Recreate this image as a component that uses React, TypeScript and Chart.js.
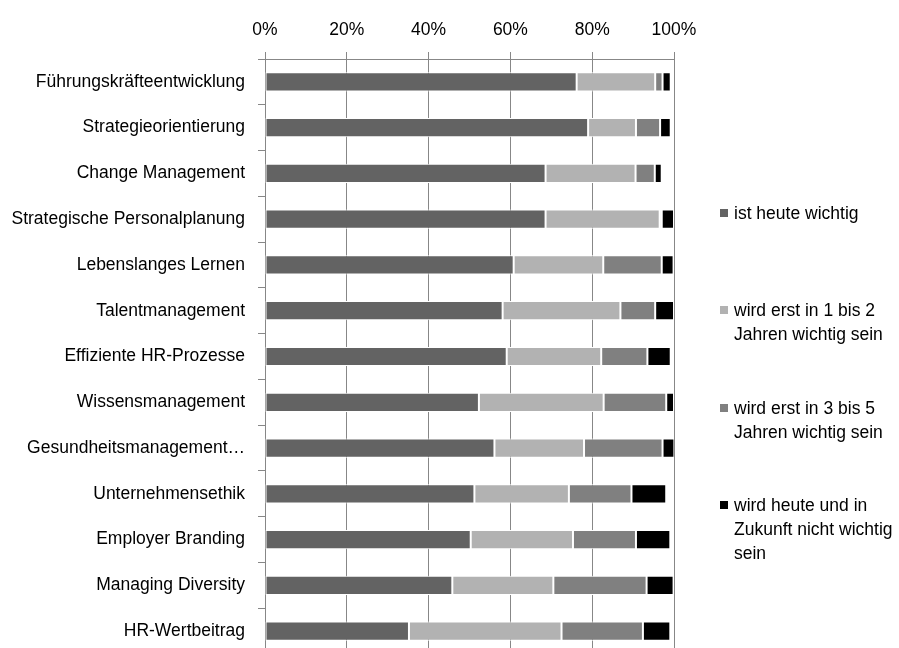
import React, { useEffect, useRef } from "react";
import { Chart, registerables } from "chart.js";

Chart.register(...registerables);

// Topics (rows, top to bottom)
const categories: string[] = [
  "Führungskräfteentwicklung",
  "Strategieorientierung",
  "Change Management",
  "Strategische Personalplanung",
  "Lebenslanges Lernen",
  "Talentmanagement",
  "Effiziente HR-Prozesse",
  "Wissensmanagement",
  "Gesundheitsmanagement…",
  "Unternehmensethik",
  "Employer Branding",
  "Managing Diversity",
  "HR-Wertbeitrag",
];

// Shares in percent per answer
const istHeuteWichtig: number[] = [76.2, 79.0, 68.6, 68.6, 60.8, 58.1, 59.1, 52.3, 56.1, 51.2, 50.3, 45.8, 35.2];
const inEinBisZweiJahren: number[] = [19.2, 11.7, 22.0, 27.9, 21.9, 28.8, 23.1, 30.5, 21.9, 23.1, 25.0, 24.7, 37.3];
const inDreiBisFuenfJahren: number[] = [1.8, 5.9, 4.7, 0.5, 14.3, 8.5, 11.3, 15.3, 19.2, 15.3, 15.4, 22.8, 19.9];
const nichtWichtig: number[] = [2.0, 2.6, 1.7, 3.0, 2.9, 4.6, 5.7, 1.9, 2.9, 8.5, 8.4, 6.6, 6.7];

// Axis tick values
const xTicks: number[] = [0, 20, 40, 60, 80, 100];

// Legend entries (line breaks as shown)
const seriesNames: string[] = [
  "ist heute wichtig",
  "wird erst in 1 bis 2\nJahren wichtig sein",
  "wird erst in 3 bis 5\nJahren wichtig sein",
  "wird heute und in\nZukunft nicht wichtig\nsein",
];
const seriesColors: string[] = ["#636363", "#b2b2b2", "#808080", "#000000"];

const FONT = "'Liberation Sans', Arial, sans-serif";
const GRID = "#878787";
const CANVAS_W = 899;
const CANVAS_H = 654;

export default function App() {
  const canvasRef = useRef<HTMLCanvasElement | null>(null);

  useEffect(() => {
    if (!canvasRef.current) return;
    const values = [istHeuteWichtig, inEinBisZweiJahren, inDreiBisFuenfJahren, nichtWichtig];
    const chart = new Chart(canvasRef.current, {
      type: "bar",
      data: {
        labels: categories,
        datasets: values.map((v, i) => ({
          label: seriesNames[i],
          data: v,
          backgroundColor: seriesColors[i],
          borderColor: "#ffffff",
          borderWidth: 1,
          borderSkipped: false,
          barPercentage: 0.42,
          categoryPercentage: 1,
        })),
      },
      options: {
        indexAxis: "y",
        animation: false,
        responsive: false,
        maintainAspectRatio: false,
        layout: { padding: { left: 0, right: 225, top: 0, bottom: 0 } },
        plugins: {
          legend: { display: false },
          tooltip: { enabled: false },
        },
        scales: {
          x: {
            type: "linear",
            position: "top",
            stacked: true,
            min: 0,
            max: 100,
            afterBuildTicks: (s: any) => {
              s.ticks = xTicks.map((v) => ({ value: v }));
            },
            afterFit: (s: any) => {
              s.height = 59;
            },
            ticks: {
              callback: (v: any) => `${v}%`,
              color: "#000",
              font: { family: FONT, size: 17.5 },
              padding: 11,
              maxRotation: 0,
            },
            grid: {
              color: GRID,
              lineWidth: 1,
              drawTicks: true,
              tickLength: 7,
              tickColor: GRID,
            },
            border: { display: true, color: GRID, width: 1 },
          },
          y: {
            type: "category",
            stacked: true,
            afterFit: (s: any) => {
              s.width = 265;
              s.paddingTop = 0;
              s.paddingBottom = 0;
            },
            ticks: {
              color: "#000",
              font: { family: FONT, size: 17.5 },
              padding: 13,
              autoSkip: false,
            },
            grid: {
              offset: true,
              drawOnChartArea: false,
              drawTicks: true,
              tickLength: 7,
              tickColor: GRID,
              color: GRID,
            },
            border: { display: true, color: GRID, width: 1 },
          },
        },
      },
    });
    chart.resize(CANVAS_W, CANVAS_H);
    return () => chart.destroy();
  }, []);

  return (
    <div style={{ position: "fixed", left: 0, top: 0, width: 899, height: 648, overflow: "hidden", background: "#fff" }}>
      <div style={{ position: "absolute", left: 0, top: 0, width: CANVAS_W, height: CANVAS_H }}>
        <canvas ref={canvasRef} width={CANVAS_W} height={CANVAS_H} />
      </div>
      {seriesNames.map((name, i) => (
        <div
          key={name}
          style={{
            position: "absolute",
            left: 720,
            top: 201 + i * 97.4,
            fontFamily: FONT,
            fontSize: 17.5,
            lineHeight: "24px",
            color: "#000",
            whiteSpace: "pre",
          }}
        >
          <span
            style={{
              position: "absolute",
              left: 0,
              top: 8,
              width: 8,
              height: 8,
              background: seriesColors[i],
            }}
          />
          <div style={{ marginLeft: 14 }}>{name}</div>
        </div>
      ))}
    </div>
  );
}
